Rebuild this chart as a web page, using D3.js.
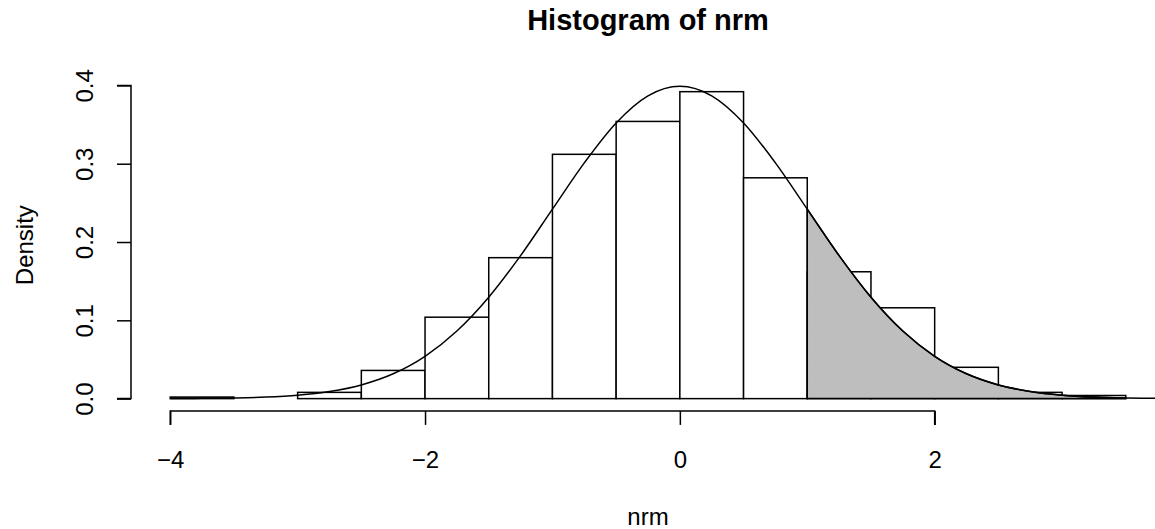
<!DOCTYPE html>
<html>
<head>
<meta charset="utf-8">
<script src="https://cdn.jsdelivr.net/npm/d3@7"></script>
<style>
  html, body { margin: 0; padding: 0; background: #fff; }
  svg { display: block; }
  text { font-family: "Liberation Sans", Arial, sans-serif; fill: #000; }
</style>
</head>
<body>
<div id="chart"></div>
<script>
// ---- data ----
const breaks = [-4, -3.5, -3, -2.5, -2, -1.5, -1, -0.5, 0, 0.5, 1, 1.5, 2, 2.5, 3, 3.5];
const densities = [0.002, 0, 0.008, 0.036, 0.104, 0.180, 0.312, 0.354, 0.392, 0.282, 0.162, 0.116, 0.040, 0.008, 0.004];
// normal density curve read at steps of 0.25 from -4 to 4
const curveX = [-4, -3.75, -3.5, -3.25, -3, -2.75, -2.5, -2.25, -2, -1.75, -1.5, -1.25, -1, -0.75, -0.5, -0.25,
                0, 0.25, 0.5, 0.75, 1, 1.25, 1.5, 1.75, 2, 2.25, 2.5, 2.75, 3, 3.25, 3.5, 3.75, 4];
const curveY = [0.0001, 0.0004, 0.0009, 0.0020, 0.0044, 0.0091, 0.0175, 0.0317, 0.0540, 0.0863, 0.1295, 0.1826, 0.2420, 0.3011, 0.3521, 0.3867,
                0.3989, 0.3867, 0.3521, 0.3011, 0.2420, 0.1826, 0.1295, 0.0863, 0.0540, 0.0317, 0.0175, 0.0091, 0.0044, 0.0020, 0.0009, 0.0004, 0.0001];
const shadeFrom = 1, shadeTo = 3.5;
const xTicks = [-4, -2, 0, 2];
const yTicks = [0.0, 0.1, 0.2, 0.3, 0.4];
const titleText = "Histogram of nrm";
const xLabel = "nrm";
const yLabel = "Density";

// ---- layout ----
const W = 1155, H = 529;
const plotL = 132, plotR = 1164, plotT = 79.4, plotB = 410.9;
const xDomain = [-4.3, 3.8];
const yDomain = [-0.01568, 0.40768];

const x = d3.scaleLinear().domain(xDomain).range([plotL, plotR]);
const y = d3.scaleLinear().domain(yDomain).range([plotB, plotT]);

const svg = d3.select("#chart").append("svg").attr("width", W).attr("height", H);

svg.append("defs").append("clipPath").attr("id", "clip")
  .append("rect").attr("x", plotL).attr("y", plotT).attr("width", plotR - plotL).attr("height", plotB - plotT);

const g = svg.append("g").attr("clip-path", "url(#clip)");

// histogram bars
const bins = densities.map((d, i) => ({x0: breaks[i], x1: breaks[i + 1], d}));
g.selectAll("rect.bar").data(bins).enter().append("rect")
  .attr("class", "bar")
  .attr("x", b => x(b.x0))
  .attr("width", b => x(b.x1) - x(b.x0))
  .attr("y", b => y(b.d))
  .attr("height", b => y(0) - y(b.d))
  .attr("fill", "#fff")
  .attr("stroke", "#000")
  .attr("stroke-width", 1.5);

const pts = curveX.map((v, i) => [v, curveY[i]]);

// shaded area
const shadePts = pts.filter(p => p[0] >= shadeFrom && p[0] <= shadeTo);
const area = d3.area().x(p => x(p[0])).y0(y(0)).y1(p => y(p[1])).curve(d3.curveMonotoneX);
g.append("path").datum(shadePts)
  .attr("d", area)
  .attr("fill", "#bebebe")
  .attr("stroke", "#000")
  .attr("stroke-width", 1.5);

// density curve
const line = d3.line().x(p => x(p[0])).y(p => y(p[1])).curve(d3.curveMonotoneX);
g.append("path").datum(pts)
  .attr("d", line)
  .attr("fill", "none")
  .attr("stroke", "#000")
  .attr("stroke-width", 1.5);

// x axis
const xAxis = d3.axisBottom(x).tickValues(xTicks).tickSize(14).tickPadding(0)
  .tickFormat(v => (v < 0 ? "\u2212" + Math.abs(v) : String(v)));
const gx = svg.append("g").attr("transform", `translate(0,${plotB})`).call(xAxis);
gx.select(".domain").attr("d", `M${x(xTicks[0])},14V0H${x(xTicks[xTicks.length - 1])}V14`).attr("stroke-width", 1.5);
gx.selectAll(".tick line").attr("stroke-width", 1.5);
gx.selectAll(".tick text").attr("font-size", 24).attr("font-family", "Liberation Sans, Arial, sans-serif")
  .attr("dy", null).attr("y", 57).attr("fill", "#000");

// y axis
const yAxis = d3.axisLeft(y).tickValues(yTicks).tickSize(14).tickPadding(0).tickFormat(d3.format(".1f"));
const gy = svg.append("g").attr("transform", `translate(${plotL - 1},0)`).call(yAxis);
gy.select(".domain").attr("d", `M-14,${y(yTicks[0])}H0V${y(yTicks[yTicks.length - 1])}H-14`).attr("stroke-width", 1.5);
gy.selectAll(".tick line").attr("stroke-width", 1.5);
gy.selectAll(".tick text")
  .attr("font-size", 24).attr("font-family", "Liberation Sans, Arial, sans-serif")
  .attr("x", null).attr("dy", null)
  .attr("text-anchor", "middle")
  .attr("transform", "translate(-38,0) rotate(-90)")
  .attr("fill", "#000");

// labels
svg.append("text").attr("x", (plotL + plotR) / 2).attr("y", 30)
  .attr("text-anchor", "middle").attr("font-size", 29).attr("font-weight", "bold").text(titleText);
svg.append("text").attr("x", (plotL + plotR) / 2).attr("y", 525)
  .attr("text-anchor", "middle").attr("font-size", 24).text(xLabel);
svg.append("text").attr("transform", `translate(33,${(plotT + plotB) / 2}) rotate(-90)`)
  .attr("text-anchor", "middle").attr("font-size", 24).text(yLabel);
</script>
</body>
</html>
